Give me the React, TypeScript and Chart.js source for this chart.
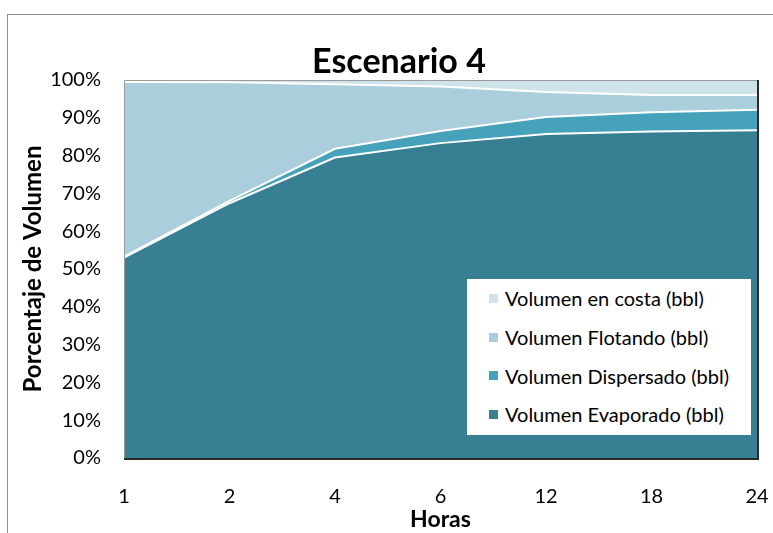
import React, { useEffect, useRef } from "react";
import { Chart, registerables } from "chart.js";

Chart.register(...registerables);

const categories = ["1", "2", "4", "6", "12", "18", "24"];
const evaporado = [53.0, 67.4, 79.5, 83.3, 85.7, 86.4, 86.7];
const dispersado = [0.3, 0.6, 2.3, 3.2, 4.5, 5.1, 5.4];
const flotando = [46.2, 31.4, 17.1, 11.8, 6.6, 4.5, 3.9];
const costa = [0.5, 0.6, 1.1, 1.7, 3.2, 4.0, 4.0];
const yTicks = [0, 10, 20, 30, 40, 50, 60, 70, 80, 90, 100];

const seriesNames = [
  "Volumen Evaporado (bbl)",
  "Volumen Dispersado (bbl)",
  "Volumen Flotando (bbl)",
  "Volumen en costa (bbl)",
];
const seriesColors = ["#377F93", "#46A2BA", "#AACEDC", "#CEE3EA"];
const seriesData = [evaporado, dispersado, flotando, costa];

const FONT = "Lato, 'Noto Sans', sans-serif";

const shadowPlugin = {
  id: "plotShadow",
  afterDraw(chart: any) {
    const { ctx, chartArea } = chart;
    ctx.save();
    ctx.strokeStyle = "#9a9a9a";
    ctx.lineWidth = 1;
    ctx.strokeRect(chartArea.left + 0.5, chartArea.top + 0.5, chartArea.right - chartArea.left, chartArea.bottom - chartArea.top);
    ctx.strokeStyle = "#2b2b2b";
    ctx.lineWidth = 2;
    ctx.beginPath();
    ctx.moveTo(chartArea.left, chartArea.bottom + 1);
    ctx.lineTo(chartArea.right + 1, chartArea.bottom + 1);
    ctx.lineTo(chartArea.right + 1, chartArea.top);
    ctx.stroke();
    ctx.restore();
  },
};

export default function App() {
  const ref = useRef<HTMLCanvasElement>(null);

  useEffect(() => {
    if (!ref.current) return;
    const chart = new Chart(ref.current, {
      type: "line",
      data: {
        labels: categories,
        datasets: seriesData.map((d, i) => ({
          label: seriesNames[i],
          data: d,
          backgroundColor: seriesColors[i],
          borderColor: "#ffffff",
          borderWidth: 2,
          pointRadius: 0,
          fill: i === 0 ? "origin" : "-1",
          tension: 0,
        })),
      },
      options: {
        responsive: false,
        animation: false,
        layout: { padding: { left: 10, right: 16, top: 80, bottom: 0 } },
        plugins: {
          legend: { display: false },
          title: { display: false },
          tooltip: { enabled: false },
        },
        scales: {
          x: {
            offset: false,
            grid: { display: false, drawTicks: true, tickLength: 23 },
            border: { display: false },
            ticks: { color: "#000", font: { family: FONT, size: 20 }, padding: 4, maxRotation: 0 },
            title: {
              display: true,
              text: "Horas",
              color: "#000",
              font: { family: FONT, size: 23, weight: "bold" },
              padding: { top: 0, bottom: 0 },
            },
            afterFit: (s: any) => {
              s.height = 75;
            },
          },
          y: {
            stacked: true,
            min: 0,
            max: 100,
            grid: { display: false, drawTicks: false },
            border: { display: false },
            afterBuildTicks: (s: any) => {
              s.ticks = yTicks.map((v) => ({ value: v }));
            },
            ticks: {
              color: "#000",
              font: { family: FONT, size: 20 },
              padding: 23,
              callback: (v: any) => v + "%",
            },
            title: {
              display: true,
              text: "Porcentaje de Volumen",
              color: "#000",
              font: { family: FONT, size: 24, weight: "bold" },
              padding: { top: 9, bottom: 0 },
            },
            afterFit: (s: any) => {
              s.width = 114;
            },
          },
        },
      },
      plugins: [shadowPlugin],
    });
    return () => chart.destroy();
  }, []);

  const legendOrder = [3, 2, 1, 0];

  return (
    <div style={{ position: "fixed", left: 0, top: 0, width: 773, height: 533, overflow: "hidden", background: "#fff" }}>
      <div
        style={{
          position: "absolute",
          left: 7,
          top: 14,
          width: 820,
          height: 600,
          border: "1.5px solid #8c8c8c",
        }}
      />
      <canvas ref={ref} width={773} height={533} style={{ position: "absolute", left: 0, top: 0 }} />
      <div
        style={{
          position: "absolute",
          left: 0,
          width: 798,
          top: 38,
          textAlign: "center",
          fontFamily: FONT,
          fontWeight: "bold",
          fontSize: 34,
          lineHeight: "44px",
          color: "#000",
        }}
      >
        Escenario 4
      </div>
      <div
        style={{
          position: "absolute",
          left: 467,
          top: 279,
          width: 284,
          height: 156,
          background: "#fff",
          fontFamily: FONT,
          fontSize: 20,
          color: "#000",
          boxSizing: "border-box",
          paddingTop: 0,
        }}
      >
        {legendOrder.map((i) => (
          <div key={i} style={{ display: "flex", alignItems: "center", height: 38.7 }}>
            <span
              style={{
                display: "inline-block",
                width: 9,
                height: 9,
                background: seriesColors[i],
                marginLeft: 22,
                marginRight: 7,
              }}
            />
            <span>{seriesNames[i]}</span>
          </div>
        ))}
      </div>
    </div>
  );
}
